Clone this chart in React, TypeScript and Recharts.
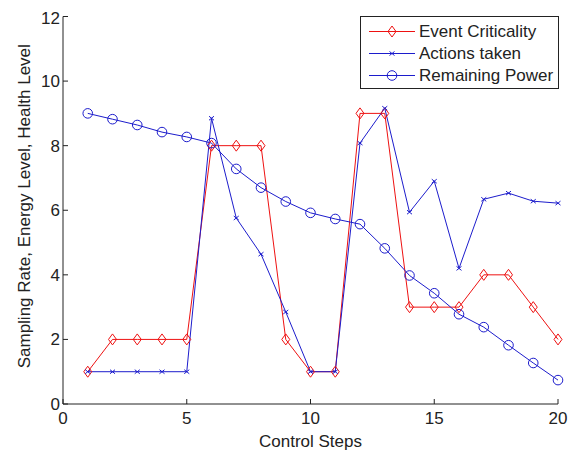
import React from "react";
import { LineChart, Line, XAxis, YAxis, Legend } from "recharts";

const steps = [1, 2, 3, 4, 5, 6, 7, 8, 9, 10, 11, 12, 13, 14, 15, 16, 17, 18, 19, 20];
const eventCriticality = [1, 2, 2, 2, 2, 8, 8, 8, 2, 1, 1, 9, 9, 3, 3, 3, 4, 4, 3, 2];
const actionsTaken = [1, 1, 1, 1, 1, 8.85, 5.76, 4.64, 2.85, 1, 1, 8.08, 9.16, 5.94, 6.9, 4.2, 6.34, 6.53, 6.28, 6.22];
const remainingPower = [9.0, 8.82, 8.64, 8.42, 8.27, 8.08, 7.28, 6.7, 6.27, 5.92, 5.73, 5.57, 4.82, 3.98, 3.43, 2.78, 2.38, 1.82, 1.27, 0.74];
const xTicks = [0, 5, 10, 15, 20];
const yTicks = [0, 2, 4, 6, 8, 10, 12];
const seriesNames = ["Event Criticality", "Actions taken", "Remaining Power"];

const data = steps.map((s, i) => ({
  step: s,
  ec: eventCriticality[i],
  at: actionsTaken[i],
  rp: remainingPower[i],
}));

const RED = "#ee1111";
const BLUE = "#1c1ccc";
const INK = "#222";
const FONT = "'Liberation Sans', Arial, sans-serif";

const diamond = (cx: number, cy: number, key?: any) => (
  <path key={key} d={`M${cx},${cy - 5.5}L${cx + 4},${cy}L${cx},${cy + 5.5}L${cx - 4},${cy}Z`} fill="none" stroke={RED} strokeWidth={1} />
);
const cross = (cx: number, cy: number, key?: any) => (
  <path key={key} d={`M${cx - 2.5},${cy - 2}L${cx + 2.5},${cy + 2}M${cx - 2.5},${cy + 2}L${cx + 2.5},${cy - 2}`} fill="none" stroke={BLUE} strokeWidth={1} />
);
const circle = (cx: number, cy: number, key?: any) => (
  <circle key={key} cx={cx} cy={cy} r={4.8} fill="none" stroke={BLUE} strokeWidth={1} />
);

const DiamondDot = (p: any) => diamond(p.cx, p.cy, p.key);
const CrossDot = (p: any) => cross(p.cx, p.cy, p.key);
const CircleDot = (p: any) => circle(p.cx, p.cy, p.key);

const LegendBox = () => {
  const rows = [
    { name: seriesNames[0], color: RED, m: diamond },
    { name: seriesNames[1], color: BLUE, m: cross },
    { name: seriesNames[2], color: BLUE, m: circle },
  ];
  return (
    <svg width={199} height={73} style={{ display: "block" }}>
      <rect x={0.5} y={0.5} width={198} height={72} fill="#fff" stroke={INK} strokeWidth={1} />
      {rows.map((r, i) => {
        const cy = 15.5 + i * 22;
        return (
          <g key={r.name}>
            <line x1={9} x2={55} y1={cy} y2={cy} stroke={r.color} strokeWidth={1} />
            {r.m(32, cy)}
            <text x={59} y={cy} dominantBaseline="central" fontSize={17} fontFamily={FONT} fill={INK}>
              {r.name}
            </text>
          </g>
        );
      })}
    </svg>
  );
};

const YLabel = (props: any) => {
  const vb = props.viewBox || { x: 0, y: 0, width: 0, height: 0 };
  const cx = vb.x + 16;
  const cy = vb.y + vb.height / 2 - 4;
  return (
    <text
      x={cx}
      y={cy}
      transform={`rotate(-90, ${cx}, ${cy})`}
      textAnchor="middle"
      dominantBaseline="central"
      fontSize={17}
      fontFamily={FONT}
      fill={INK}
    >
      Sampling Rate, Energy Level, Health Level
    </text>
  );
};

export default function App() {
  const tickStyle = { fontSize: 17, fontFamily: FONT, fill: INK };
  return (
    <div style={{ width: 571, height: 442 }}>
      <LineChart width={571} height={442} data={data} margin={{ top: 8.5, right: 21, bottom: 0, left: 0 }}>
        <XAxis
          xAxisId="b"
          dataKey="step"
          type="number"
          domain={[0, 20]}
          ticks={xTicks}
          height={46}
          tickSize={-5}
          tickMargin={13}
          stroke={INK}
          tick={tickStyle}
          axisLine={{ stroke: INK }}
          tickLine={{ stroke: INK }}
          label={{ value: "Control Steps", position: "insideBottom", offset: 3, fontSize: 17, fontFamily: FONT, fill: INK }}
        />
        <XAxis
          xAxisId="t"
          orientation="top"
          dataKey="step"
          type="number"
          domain={[0, 20]}
          ticks={xTicks}
          height={0}
          tickSize={-5}
          tick={false}
          stroke={INK}
          axisLine={{ stroke: INK }}
          tickLine={{ stroke: INK }}
        />
        <YAxis
          yAxisId="l"
          type="number"
          domain={[0, 12]}
          ticks={yTicks}
          width={55}
          tickSize={-5}
          tickMargin={8}
          stroke={INK}
          tick={tickStyle}
          axisLine={{ stroke: INK }}
          tickLine={{ stroke: INK }}
          label={{ content: YLabel }}
        />
        <YAxis
          yAxisId="r"
          orientation="right"
          type="number"
          domain={[0, 12]}
          ticks={yTicks}
          width={0}
          tickSize={-5}
          tick={false}
          stroke={INK}
          axisLine={{ stroke: INK }}
          tickLine={{ stroke: INK }}
        />
        <Legend
          layout="vertical"
          align="center"
          verticalAlign="middle"
          content={() => <LegendBox />}
          wrapperStyle={{ top: 8, left: 352, width: 199, height: 73 }}
        />
        <Line xAxisId="b" yAxisId="l" dataKey="ec" name={seriesNames[0]} type="linear" stroke={RED} strokeWidth={1} dot={DiamondDot} activeDot={false} isAnimationActive={false} />
        <Line xAxisId="b" yAxisId="l" dataKey="at" name={seriesNames[1]} type="linear" stroke={BLUE} strokeWidth={1} dot={CrossDot} activeDot={false} isAnimationActive={false} />
        <Line xAxisId="b" yAxisId="l" dataKey="rp" name={seriesNames[2]} type="linear" stroke={BLUE} strokeWidth={1} dot={CircleDot} activeDot={false} isAnimationActive={false} />
      </LineChart>
    </div>
  );
}
